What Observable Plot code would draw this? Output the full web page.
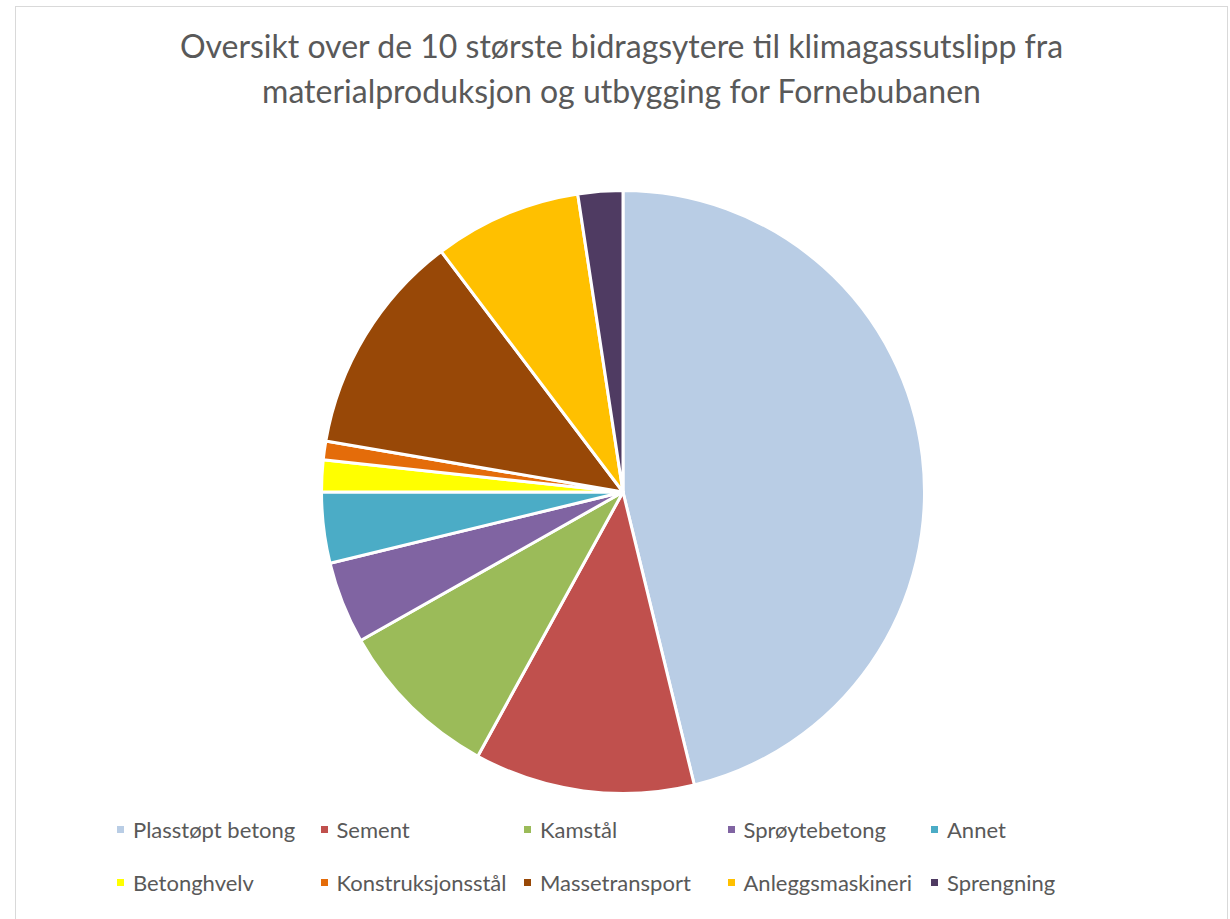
<!DOCTYPE html>
<html>
<head>
<meta charset="utf-8">
<script src="https://cdn.jsdelivr.net/npm/d3@7"></script>
<script src="https://cdn.jsdelivr.net/npm/@observablehq/plot@0.6"></script>
<style>
  html, body { margin: 0; padding: 0; background: #fff; }
  body { width: 1230px; height: 919px; position: relative; overflow: hidden; font-family: Lato, "Open Sans", sans-serif; }
  #frame { position: absolute; left: 15px; top: 6px; width: 1211px; height: 920px; border: 1px solid #d9d9d9; border-bottom: none; }
  #title { position: absolute; left: 15px; width: 1213px; top: 23px; text-align: center; color: #595959; font-size: 32px; line-height: 45px; }
  #chart { position: absolute; left: 0; top: 170px; }
  #legend { position: absolute; left: 117px; top: 815px; display: grid; grid-template-columns: repeat(5, 203.5px); row-gap: 24px; color: #595959; font-size: 22px; }
  .item { display: flex; align-items: center; height: 29px; white-space: nowrap; }
  .sw { width: 7px; height: 7px; margin-right: 9px; flex: none; }
</style>
</head>
<body>
<div id="frame"></div>
<div id="title">Oversikt over de 10 største bidragsytere til klimagassutslipp fra<br>materialproduksjon og utbygging for Fornebubanen</div>
<div id="chart"></div>
<div id="legend"></div>
<script>
const categories = ["Plasstøpt betong", "Sement", "Kamstål", "Sprøytebetong", "Annet", "Betonghvelv", "Konstruksjonsstål", "Massetransport", "Anleggsmaskineri", "Sprengning"];
const shares = [46.2, 11.8, 8.8, 4.4, 3.8, 1.7, 1.0, 12.0, 7.9, 2.4];
const colors = ["#B9CDE5", "#C0504D", "#9BBB59", "#8064A2", "#4BACC6", "#FFFF00", "#E46C0A", "#984807", "#FFC000", "#4F3B62"];

const data = categories.map((c, i) => ({category: c, share: shares[i]}));

const pieMark = (index, scales) => {
  const cx = scales.x(0), cy = scales.y(0);
  const r = scales.x(1) - scales.x(0);
  const arcs = d3.pie().sort(null).value(d => d.share)(data);
  const arc = d3.arc().innerRadius(0).outerRadius(r);
  const g = d3.create("svg:g").attr("transform", `translate(${cx},${cy})`);
  g.selectAll("path").data(arcs).join("path")
    .attr("d", arc)
    .attr("fill", d => scales.color(d.data.category))
    .attr("stroke", "#fff")
    .attr("stroke-width", 3)
    .attr("stroke-linejoin", "round");
  return g.node();
};

const cx = 623, cyS = 322, R = 301.5;
const plot = Plot.plot({
  width: 1230,
  height: 646,
  margin: 0,
  x: {domain: [-1, 1], range: [cx - R, cx + R], axis: null},
  y: {domain: [-1, 1], range: [cyS + R, cyS - R], axis: null},
  color: {domain: categories, range: colors},
  marks: [
    Plot.dot(data, {x: () => 0, y: () => 0, fill: "category", r: 0}),
    pieMark
  ]
});
document.getElementById("chart").appendChild(plot);

const color = plot.scale("color");
const legend = d3.select("#legend");
legend.selectAll("div").data(categories).join("div").attr("class", "item")
  .html(c => `<span class="sw" style="background:${color.range[color.domain.indexOf(c)]}"></span><span>${c}</span>`);
</script>
</body>
</html>
